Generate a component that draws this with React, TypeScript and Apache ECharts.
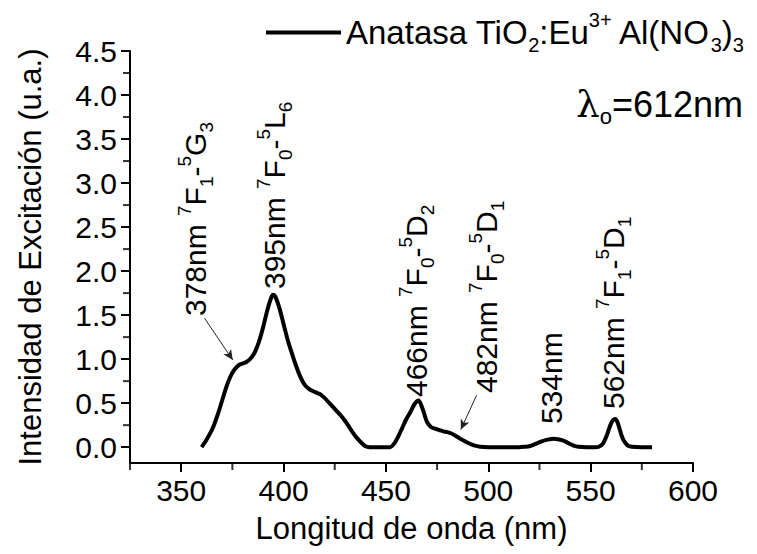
import React, { useEffect, useRef } from "react";
import * as echarts from "echarts";

// ---- data ----
const wavelengthNm = [
  360, 362, 364, 366, 368, 370, 372, 374, 376, 378, 380, 382, 384, 386, 388, 390, 392, 394, 395, 396,
  398, 400, 402, 404, 406, 408, 410, 412, 414, 416, 418, 420, 422, 424, 426, 428, 430, 432, 434, 436,
  438, 440, 442, 446, 450, 452, 454, 456, 458, 460, 462, 464, 466, 468, 470, 472, 474, 476, 478, 480,
  482, 484, 486, 488, 490, 492, 494, 496, 500, 505, 510, 515, 518, 520, 522, 524, 526, 528, 530, 532,
  534, 536, 538, 540, 542, 544, 548, 552, 554, 556, 558, 559, 560, 561, 562, 563, 564, 565, 566, 568,
  570, 575, 580,
];
const intensity = [
  0.0, 0.07, 0.15, 0.25, 0.38, 0.53, 0.68, 0.8, 0.88, 0.93, 0.95, 0.97, 1.01, 1.08, 1.2, 1.36, 1.55, 1.7, 1.73, 1.71,
  1.58, 1.4, 1.22, 1.07, 0.93, 0.81, 0.72, 0.67, 0.64, 0.62, 0.6, 0.56, 0.51, 0.46, 0.41, 0.36, 0.3, 0.23, 0.16, 0.1,
  0.05, 0.01, 0.0, 0.0, 0.0, 0.0, 0.04, 0.12, 0.22, 0.32, 0.4, 0.49, 0.53, 0.43, 0.29, 0.23, 0.21, 0.195, 0.18, 0.17,
  0.155, 0.13, 0.1, 0.075, 0.05, 0.03, 0.015, 0.005, 0.0, 0.0, 0.0, 0.0, 0.005, 0.01, 0.025, 0.045, 0.065, 0.08, 0.09, 0.095,
  0.09, 0.08, 0.06, 0.035, 0.015, 0.005, 0.0, 0.0, 0.005, 0.04, 0.14, 0.21, 0.27, 0.31, 0.32, 0.29, 0.22, 0.14, 0.08, 0.02,
  0.005, 0.0, 0.0,
];
const X_MIN = 325;
const X_MAX = 600;
const Y_MIN = -0.18;
const Y_MAX = 4.5;
const xMajorTicks = [350, 400, 450, 500, 550, 600];
const xMinorTicks = [325, 375, 425, 475, 525, 575];
const yMajorTicks = [0, 0.5, 1, 1.5, 2, 2.5, 3, 3.5, 4, 4.5];
const yMinorTicks = [0.25, 0.75, 1.25, 1.75, 2.25, 2.75, 3.25, 3.75, 4.25];

const seriesName = "Anatasa TiO2:Eu3+ Al(NO3)3";
const legendRich = "{n|Anatasa TiO}{b|2}{n|:Eu}{p|3+}{n| Al(NO}{b|3}{n|)}{b|3}";
const annotationTexts = [
  "{n|378nm }{p|7}{n|F}{b|1}{n|-}{p|5}{n|G}{b|3}",
  "{n|395nm }{p|7}{n|F}{b|0}{n|-}{p|5}{n|L}{b|6}",
  "{n|466nm }{p|7}{n|F}{b|0}{n|-}{p|5}{n|D}{b|2}",
  "{n|482nm }{p|7}{n|F}{b|0}{n|-}{p|5}{n|D}{b|1}",
  "{n|534nm}",
  "{n|562nm }{p|7}{n|F}{b|1}{n|-}{p|5}{n|D}{b|1}",
];
const excitationText = "{l|λ}{s|o}{n|=612nm}";
// arrows (data coordinates): [start, end]
const arrowStarts = [[361.4, 1.465], [494.3, 0.59]];
const arrowEnds = [[375.2, 0.99], [486.6, 0.2]];

// ---- layout (pixels) ----
const annotationAnchors = [
  [195, 316],
  [274, 289],
  [416, 397],
  [486, 393],
  [551, 424],
  [613, 409],
];

const FONT = "'Liberation Sans', Arial, Helvetica, sans-serif";

function makeRich(size: number) {
  const small = Math.round(size * 0.62);
  return {
    n: { fontSize: size, fontFamily: FONT, color: "#000", lineHeight: Math.round(size * 1.35), verticalAlign: "middle" },
    p: { fontSize: small, fontFamily: FONT, color: "#000", lineHeight: small, verticalAlign: "top" },
    b: { fontSize: small, fontFamily: FONT, color: "#000", lineHeight: small, verticalAlign: "bottom" },
  };
}

export default function App() {
  const ref = useRef<HTMLDivElement>(null);
  useEffect(() => {
    if (!ref.current) return;
    const chart = echarts.init(ref.current, null, { renderer: "svg" });
    const data = wavelengthNm.map((x, i) => [x, intensity[i]]);
    const annRich = makeRich(30);
    const tickLine = { color: "#000", width: 2 };

    const option: any = {
      animation: false,
      backgroundColor: "#fff",
      grid: { left: 130, right: 64, top: 51, bottom: 91, containLabel: false },
      legend: {
        show: true,
        left: 261,
        top: 5,
        icon: "rect",
        itemWidth: 75,
        itemHeight: 4,
        itemGap: 8,
        data: [seriesName],
        formatter: () => legendRich,
        textStyle: { rich: makeRich(33), fontFamily: FONT, color: "#000" },
      },
      xAxis: {
        type: "value",
        min: X_MIN,
        max: X_MAX,
        position: "bottom",
        name: "Longitud de onda (nm)",
        nameLocation: "middle",
        nameGap: 50,
        nameTextStyle: { fontSize: 31, fontFamily: FONT, color: "#000" },
        axisLine: { show: true, onZero: false, lineStyle: tickLine },
        axisTick: { show: true, inside: false, length: 9, customValues: xMajorTicks, lineStyle: tickLine },
        axisLabel: {
          show: true,
          customValues: xMajorTicks,
          fontSize: 30,
          fontFamily: FONT,
          color: "#000",
          margin: 12,
        },
        splitLine: { show: false },
      },
      yAxis: {
        type: "value",
        min: Y_MIN,
        max: Y_MAX,
        position: "left",
        name: "Intensidad de Excitación (u.a.)",
        nameLocation: "middle",
        nameRotate: 90,
        nameGap: 84,
        nameTextStyle: { fontSize: 31, fontFamily: FONT, color: "#000" },
        axisLine: { show: true, onZero: false, lineStyle: tickLine },
        axisTick: { show: true, inside: false, length: 9, customValues: yMajorTicks, lineStyle: tickLine },
        axisLabel: {
          show: true,
          customValues: yMajorTicks,
          fontSize: 30,
          fontFamily: FONT,
          color: "#000",
          margin: 13,
          formatter: (v: number) => v.toFixed(1),
        },
        splitLine: { show: false },
      },
      series: [
        {
          name: seriesName,
          type: "line",
          data,
          smooth: 0.25,
          showSymbol: false,
          symbol: "none",
          lineStyle: { color: "#000", width: 4 },
          itemStyle: { color: "#000" },
          z: 3,
          markLine: {
            silent: true,
            symbol: ["none", "arrow"],
            symbolSize: [7, 10],
            label: { show: false },
            lineStyle: { color: "#222", width: 1, type: "solid" },
            data: arrowStarts.map((s, i) => [{ coord: s }, { coord: arrowEnds[i] }]),
          },
        },
        {
          // minor ticks on the x axis
          name: "xMinor",
          type: "scatter",
          silent: true,
          clip: false,
          symbol: "rect",
          symbolSize: [2, 6],
          symbolOffset: [0, 4],
          itemStyle: { color: "#000" },
          data: xMinorTicks.map((v) => [v, Y_MIN]),
          z: 5,
        },
        {
          // minor ticks on the y axis
          name: "yMinor",
          type: "scatter",
          silent: true,
          clip: false,
          symbol: "rect",
          symbolSize: [6, 2],
          symbolOffset: [-4, 0],
          itemStyle: { color: "#000" },
          data: yMinorTicks.map((v) => [X_MIN, v]),
          z: 5,
        },
      ],
      graphic: [
        ...annotationTexts.map((t, i) => ({
          type: "text",
          x: annotationAnchors[i][0],
          y: annotationAnchors[i][1],
          rotation: Math.PI / 2,
          style: {
            text: t,
            rich: annRich,
            align: "left",
            verticalAlign: "middle",
            textAlign: "left",
            textVerticalAlign: "middle",
            fill: "#000",
          },
        })),
        {
          type: "text",
          x: 743,
          y: 104,
          style: {
            text: excitationText,
            rich: {
              l: { fontSize: 37, fontFamily: "'DejaVu Serif', serif", color: "#000", lineHeight: 46, verticalAlign: "middle" },
              s: { fontSize: 22, fontFamily: FONT, color: "#000", lineHeight: 22, verticalAlign: "bottom" },
              n: { fontSize: 36, fontFamily: FONT, color: "#000", lineHeight: 46, verticalAlign: "middle" },
            },
            align: "right",
            verticalAlign: "middle",
            textAlign: "right",
            textVerticalAlign: "middle",
            fill: "#000",
          },
        },
      ],
    };
    chart.setOption(option);
    return () => chart.dispose();
  }, []);
  return (
    <div
      ref={ref}
      style={{ position: "fixed", left: 0, top: 0, width: 757, height: 554, background: "#fff" }}
    />
  );
}
